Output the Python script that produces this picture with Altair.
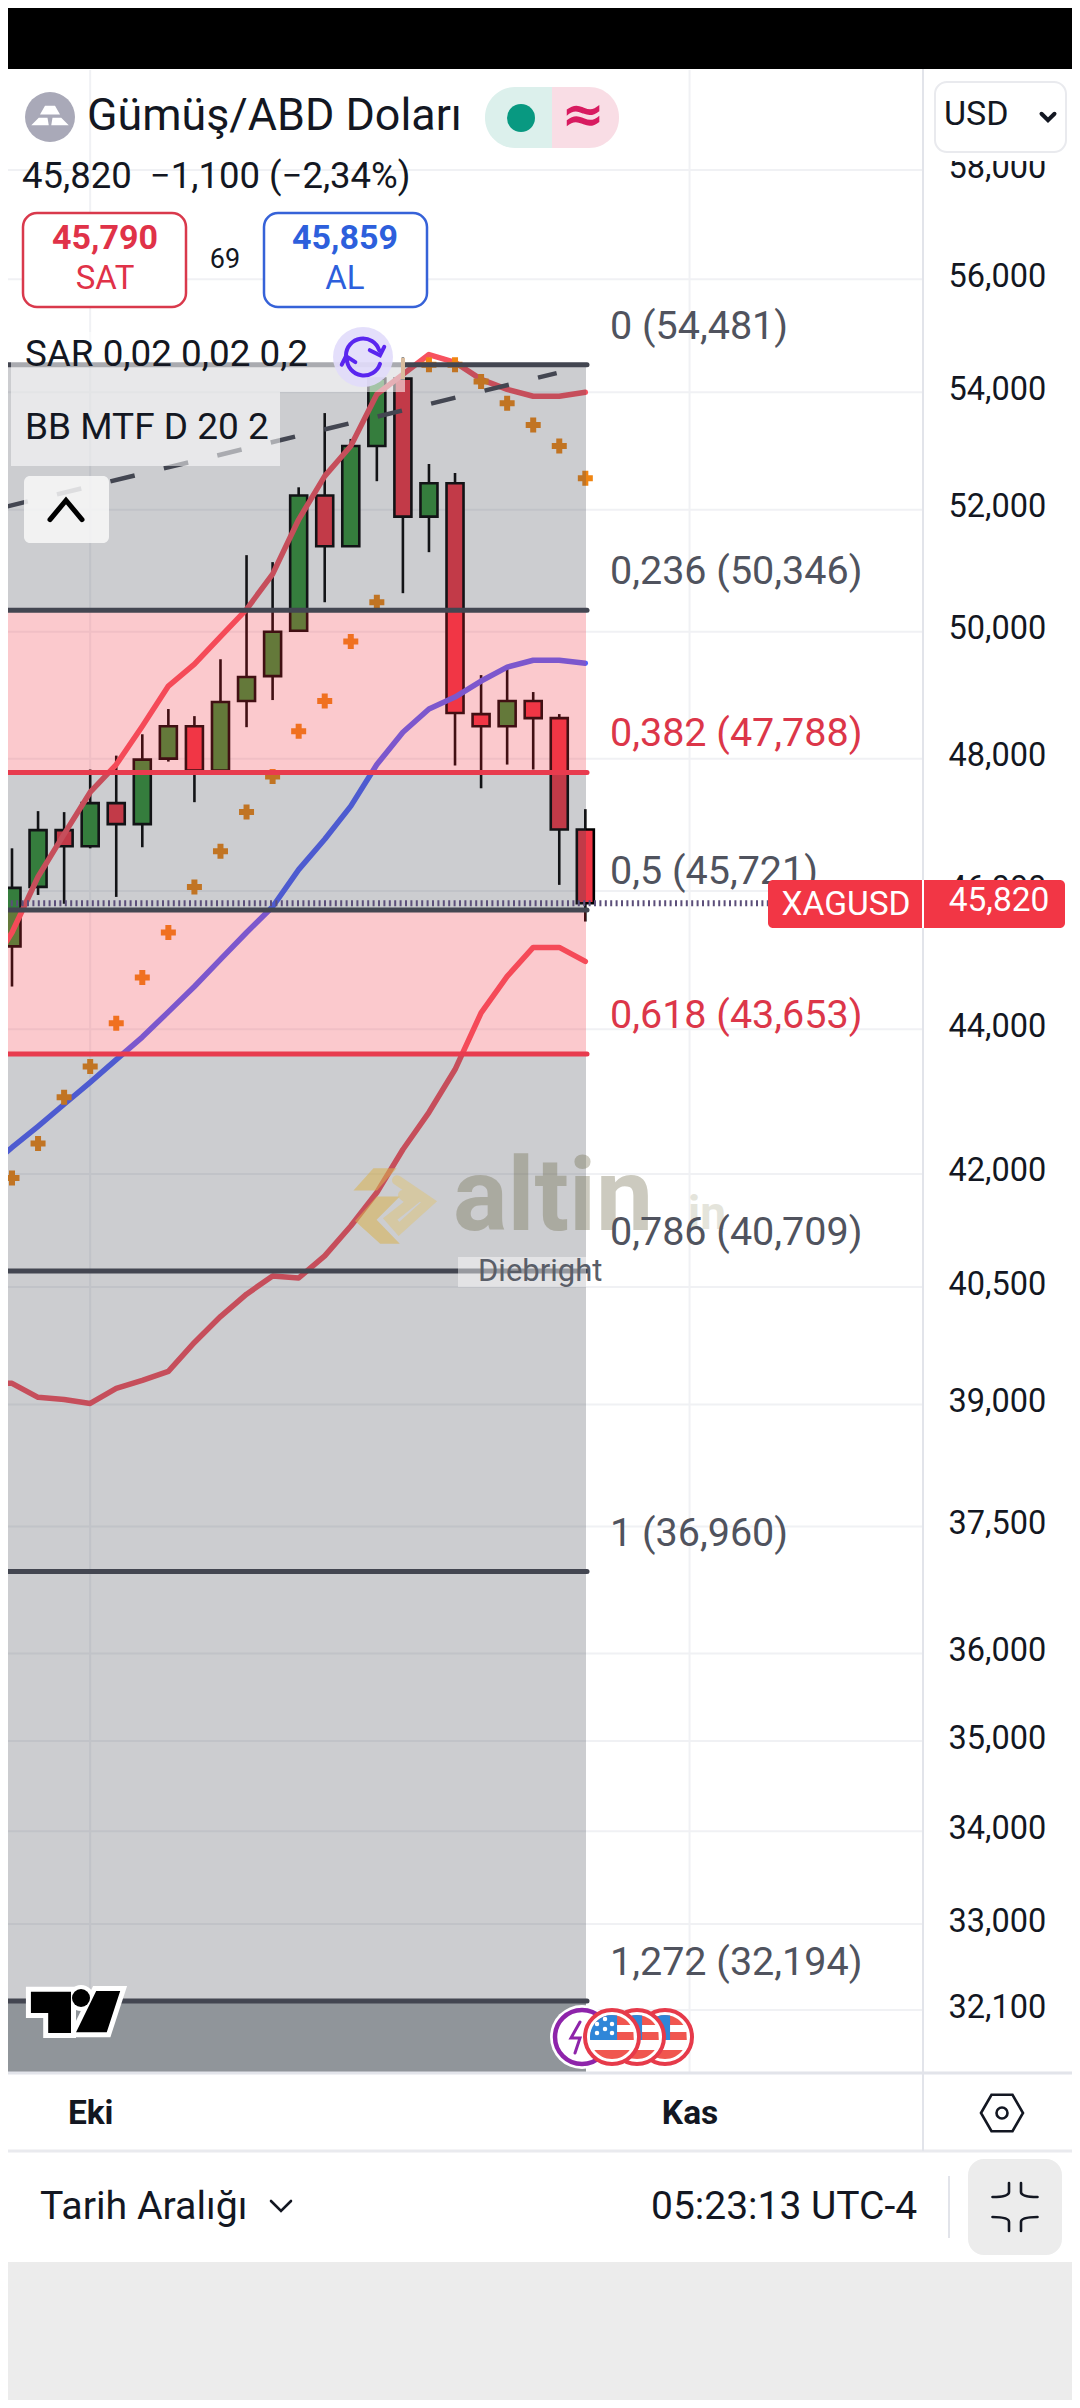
import altair as alt
import pandas as pd

# ---- data ----
idx = list(range(23))
opens = [45189, 46061, 46909, 46667, 47318, 47000, 48000, 48504, 47818, 48898, 49291, 50016,
         52239, 51394, 53077, 54239, 51885, 52445, 48693, 48504, 48898, 48630, 46920]
highs = [46636, 47197, 47182, 47833, 48047, 48378, 48772, 48661, 49559, 51246, 51131, 52376,
         53641, 53197, 54257, 54616, 52770, 52616, 49307, 49449, 49039, 48693, 47227]
lows = [44609, 45942, 45812, 46636, 45913, 46652, 47955, 47333, 47818, 48488, 48913, 50016,
        50476, 51394, 52479, 50623, 51295, 47894, 47545, 47909, 47833, 46091, 45551]
closes = [46046, 46909, 46667, 47318, 47000, 47985, 48504, 47818, 48882, 49276, 50000, 52239,
          51394, 53077, 54239, 51885, 52445, 48709, 48504, 48898, 48630, 46920, 45820]

line_idx = list(range(-1, 23))
bb_upper = [44783, 45391, 46212, 46849, 47485, 47909, 48504, 49134, 49480, 49921, 50361, 50935,
            51836, 52564, 53077, 53966, 54313, 54660, 54522, 54226, 54051, 53932, 53932, 54000]
bb_basis = [42056, 42359, 42649, 42952, 43255, 43572, 43890, 44247, 44609, 45000, 45391, 45768,
            46318, 46773, 47273, 47909, 48409, 48772, 48960, 49213, 49433, 49543, 49543, 49496]
bb_lower = [39266, 39266, 39089, 39063, 39013, 39202, 39304, 39418, 39785, 40118, 40408, 40645,
            40618, 40908, 41303, 41750, 42331, 42841, 43434, 44232, 44754, 45174, 45174, 44971]

sar_idx = [0, 1, 2, 3, 4, 5, 6, 7, 8, 9, 10, 11, 12, 13, 14, 16, 17, 18, 19, 20, 21, 22]
sar_val = [41947, 42414, 43048, 43476, 44087, 44739, 45391, 46061, 46591, 47182, 47727, 48425,
           48898, 49843, 50475, 54481, 54481, 54190, 53812, 53436, 53077, 52530]

fib_ratio = ["0", "0,236", "0,382", "0,5", "0,618", "0,786", "1", "1,272"]
fib_price = [54481, 50346, 47788, 45721, 43653, 40709, 36960, 32194]
red_ratio = ["0,382", "0,618"]
pink_from = ["0,236", "0,5"]

trend_idx = [-0.326, 20.9]
trend_val = [52040, 54335]
last_price = 45820

y_ticks = [58000, 56000, 54000, 52000, 50000, 48000, 46000, 44000, 42000, 40500, 39000, 37500,
           36000, 35000, 34000, 33000, 32100]
x_ticks = [3, 26]
x_names = ["Eki", "Kas"]

# ---- styles ----
FONT = "Roboto"
GREEN, RED, BLUE, ORANGE, LINE_RED = "#309236", "#f23645", "#5263ff", "#f08512", "#f7525f"
DARK, INK, GRID = "#434651", "#131722", "#f0f1f4"
XS = alt.Scale(domain=[-0.1535, 40.675], nice=False, zero=False, padding=0)
YS = alt.Scale(type="log", domain=[28317, 61103], nice=False, zero=False, padding=0)
one = alt.Data(values=[{"a": 1}])

label_expr = " : ".join(f"datum.value == {v} ? '{n}'" for v, n in zip(x_ticks, x_names)) + " : ''"
YAX = alt.Axis(orient="right", offset=-124, values=y_ticks, format=",d", grid=False, domain=False, ticks=False,
               labelFont=FONT, labelFontSize=32.5, labelColor=INK, labelPadding=0, labelAlign="left",
               labelBaseline="middle", labelOverlap=False, labelFlush=False, labelBound=False, labelOffset=-3,
               title=None)
XAX = alt.Axis(orient="bottom", offset=-287, values=x_ticks, labelExpr=label_expr, grid=False, domain=False,
               ticks=False, labelFont=FONT, labelFontSize=33.5, labelFontWeight="bold", labelColor=INK,
               labelPadding=0, labelBaseline="middle", labelOverlap=False, labelFlush=False, labelBound=False,
               title=None)


def X(px):
    return alt.value(px - 8)


def Y(px):
    return alt.value(px - 8)


def xq(f="i"):
    return alt.X(f"{f}:Q", scale=XS, axis=XAX, title=None)


def yq(f="p"):
    return alt.Y(f"{f}:Q", scale=YS, axis=YAX, title=None)


def box(x0, x1, y0, y1, fill="white", **kw):
    return alt.Chart(one).mark_rect(fill=fill, **kw).encode(x=X(x0), x2=X(x1), y=Y(y0), y2=Y(y1))


def label(txt, x, y, size, color=INK, align="left", weight="normal", font=FONT, **kw):
    return alt.Chart(one).mark_text(text=txt, font=font, fontSize=size, color=color, align=align,
                                    baseline="middle", fontWeight=weight, **kw).encode(x=X(x), y=Y(y))


def icon(path, x, y, d, color, sw=None, fill=False, op=1):
    if fill:
        m = alt.Chart(one).mark_point(shape=path, size=d * d, filled=True, fill=color, opacity=op, strokeWidth=0)
    else:
        m = alt.Chart(one).mark_point(shape=path, size=d * d, filled=False, stroke=color, strokeWidth=sw,
                                      opacity=op, strokeCap="round")
    return m.encode(x=X(x), y=Y(y))


candles = pd.DataFrame({"i": idx, "o": opens, "h": highs, "l": lows, "c": closes})
fib = pd.DataFrame({"r": fib_ratio, "p": fib_price})
fib["t"] = [f"{r} ({p:,})" for r, p in zip(fib_ratio, fib_price)]
fib["red"] = [r in red_ratio for r in fib_ratio]
bands = pd.DataFrame({"r": fib_ratio[:-1], "p": fib_price[:-1], "q": fib_price[1:]})
bands["pink"] = [r in pink_from for r in bands["r"]]

# ---- grid + axes ----
grid_h = alt.Chart(pd.DataFrame({"p": y_ticks})).mark_rule(color=GRID, strokeWidth=2).encode(
    y=yq(), x=X(0), x2=X(923))
grid_v = alt.Chart(pd.DataFrame({"i": x_ticks})).mark_rule(color=GRID, strokeWidth=2).encode(
    x=xq(), y=Y(70), y2=Y(2073))

# ---- candles ----
wicks = alt.Chart(candles).mark_rule(color="black", strokeWidth=2.6).encode(x=xq(), y=yq("l"), y2="h:Q")
bodies = alt.Chart(candles).mark_bar(size=17, stroke="black", strokeWidth=2.6, orient="vertical").encode(
    x=xq(), y=yq("o"), y2="c:Q",
    fill=alt.condition("datum.c >= datum.o", alt.value(GREEN), alt.value(RED)))


def series(vals, color):
    d = pd.DataFrame({"i": line_idx, "p": vals})
    return alt.Chart(d).mark_line(color=color, strokeWidth=5.5, strokeCap="round", strokeJoin="round").encode(x=xq(), y=yq())


sar = alt.Chart(pd.DataFrame({"i": sar_idx, "p": sar_val})).mark_point(
    shape="cross", size=225, filled=True, color=ORANGE, opacity=1).encode(x=xq(), y=yq())

# ---- fibonacci ----
band_rects = alt.Chart(bands).mark_rect(opacity=0.27).encode(
    y=yq(), y2="q:Q", x=X(0), x2=X(586),
    fill=alt.condition("datum.pink", alt.value(RED), alt.value(DARK)))
band_end = alt.Chart(pd.DataFrame({"p": fib_price[-1:]})).mark_rect(fill="#90959a").encode(
    y=yq(), y2=Y(2073), x=X(0), x2=X(586))
fib_lines = alt.Chart(fib).mark_rule(strokeWidth=5, strokeCap="round").encode(
    y=yq(), x=X(0), x2=X(587),
    stroke=alt.condition("datum.red", alt.value("#e83b4e"), alt.value(DARK)))
fib_text = alt.Chart(fib).mark_text(font=FONT, fontSize=39.5, align="left", baseline="middle", dy=-38).encode(
    y=yq(), x=X(610), text="t:N",
    color=alt.condition("datum.red", alt.value("#dc3649"), alt.value("#50535e")))

trend = alt.Chart(pd.DataFrame({"i": trend_idx, "p": trend_val})).mark_line(
    color=DARK, strokeWidth=4.5, strokeDash=[25, 30]).encode(x=xq(), y=yq())
price_line = alt.Chart(pd.DataFrame({"p": [last_price]})).mark_rule(
    color="#5c4f7a", strokeWidth=6, strokeDash=[2, 3.4]).encode(y=yq(), x=X(0), x2=X(768))

# ---- watermark ----
wm = [
    icon("M-1.04,-0.36 L-0.54,-0.92 L0.04,-0.92 L-0.45,-0.36 Z", 395, 1205, 80, "#d8b24e", fill=True, op=0.55),
    icon("M0.12,-0.21 L-0.46,-0.21 L-1,0.4 L-0.37,0.97 L0.12,0.97 L-0.46,0.37 Z", 395, 1205, 80, "#d8b24e", fill=True, op=0.55),
    icon("M0.05,-0.62 L0.85,-0.08 L0.1,0.6 L-0.12,0.35 L0.42,-0.08 L0.2,-0.25", 395, 1205, 80, "#e0c26e", sw=10, op=0.45),
    label("altin", 453, 1199, 102, "#6e6a4a", weight="bold", opacity=0.35),
    label("in", 688, 1215, 46, "#8a8660", weight="bold", opacity=0.22),
]

# ---- chrome ----
TOP_STRIPE = "M-0.835,-0.55 A1,1 0 0 1 0.835,-0.55 Z"
MID_STRIPE = "M-0.973,-0.23 L0.973,-0.23 L0.99,0.14 L-0.99,0.14 Z"
LOW_STRIPE = "M-0.807,0.59 L0.807,0.59 A1,1 0 0 1 -0.807,0.59 Z"
CANTON = "M-0.99,0.14 L0.23,0.14 L0.23,-0.973 A1,1 0 0 0 -0.99,0.14 Z"


def flag(x):
    return [
        icon("circle", x, 2037, 54, "white", fill=True),
        icon("circle", x, 2037, 54, "#e63a4a", sw=4),
        icon(TOP_STRIPE, x, 2037, 44, "#f0564f", fill=True),
        icon(MID_STRIPE, x, 2037, 44, "#f0564f", fill=True),
        icon(LOW_STRIPE, x, 2037, 44, "#f0564f", fill=True),
        icon(CANTON, x, 2037, 44, "#2f86d8", fill=True),
    ]


stars = [icon("circle", x, y, 4.5, "white", fill=True) for x, y in
         [(597, 2024), (605, 2019), (612, 2024), (597, 2033), (605, 2029), (612, 2033)]]

TV_SHAPE = ("M-0.96,-0.42 L-0.125,-0.42 L-0.125,0.44 L-0.6,0.44 L-0.6,0.02 L-0.96,0.02 Z "
            "M0.4,-0.44 L0.9,-0.44 L0.62,0.42 L-0.02,0.42 Z")

chrome = [
    box(0, 1080, 8, 69, fill="black"),
    box(925, 1080, 69, 161),
    box(0, 1080, 2262, 2408, fill="#ececec"),
    alt.Chart(one).mark_rule(color="#e2e4ea", strokeWidth=3).encode(x=X(0), x2=X(1080), y=Y(2073)),
    alt.Chart(one).mark_rule(color="#e9eaee", strokeWidth=3).encode(x=X(0), x2=X(1080), y=Y(2151)),
    alt.Chart(one).mark_rule(color="#e2e4ea", strokeWidth=2).encode(x=X(923), y=Y(69), y2=Y(2151)),
    alt.Chart(one).mark_rule(color="#e2e4ea", strokeWidth=2).encode(x=X(949), y=Y(2176), y2=Y(2238)),
    # header
    icon("circle", 50, 117, 50, "#a9a9b8", fill=True),
    icon("M-0.2,-0.45 L0.2,-0.45 L0.4,-0.1 L-0.4,-0.1 Z M-0.45,0.03 L-0.1,0.03 L-0.05,0.33 L-0.75,0.33 Z M0.1,0.03 L0.45,0.03 L0.75,0.33 L0.05,0.33 Z",
         50, 117, 50, "white", fill=True),
    label("Gümüş/ABD Doları", 87, 117, 44.8),
    box(485, 552, 87, 148, fill="#dcf0ec", cornerRadiusTopLeft=30, cornerRadiusBottomLeft=30),
    box(552, 619, 87, 148, fill="#f9dde5", cornerRadiusTopRight=30, cornerRadiusBottomRight=30),
    icon("circle", 521, 118, 28, "#089981", fill=True),
    label("≈", 583, 116, 52, "#d81b60", align="center", weight="bold", font="DejaVu Sans"),
    box(935, 1066, 82, 152, stroke="#e9eaee", strokeWidth=2, cornerRadius=12),
    label("USD", 944, 115, 34),
    icon("M-1,-0.5 L0,0.5 L1,-0.5", 1048, 117, 13, INK, sw=4),
    label("45,820\u00a0\u00a0−1,100 (−2,34%)", 22, 177, 36.5),
    box(23, 186, 213, 307, stroke="#d9394c", strokeWidth=2.5, cornerRadius=14),
    label("45,790", 105, 239, 34, "#e03248", align="center", weight="bold"),
    label("SAT", 105, 279, 33, "#e03248", align="center"),
    label("69", 225, 260, 27, align="center"),
    box(264, 427, 213, 307, stroke="#3662d8", strokeWidth=2.5, cornerRadius=14),
    label("45,859", 345, 239, 34, "#2d5fdc", align="center", weight="bold"),
    label("AL", 345, 279, 33, "#2d5fdc", align="center"),
    # legend panels
    box(11, 405, 332, 392, opacity=0.55),
    box(11, 280, 392, 466, opacity=0.55),
    alt.Chart(one).mark_rule(color="#d9bc9e", strokeWidth=4).encode(x=X(403), y=Y(358), y2=Y(379)),
    label("SAR 0,02 0,02 0,2", 25, 355, 36.8),
    label("BB MTF D 20 2", 25, 428, 37),
    icon("circle", 363, 357, 60, "#e1dbfb", fill=True, op=0.9),
    icon("M-1,-0.1 A1,1 0 0 1 0.95,-0.4 M0.4,-0.4 L1,-0.1 L1.25,-0.6", 363, 357, 34, "#5a26ef", sw=4),
    icon("M1,0.4 A1,1 0 0 1 -0.95,0.1 M-1.25,0.45 L-1,-0.05 L-0.45,0.3", 363, 357, 34, "#5a26ef", sw=4),
    box(24, 109, 476, 543, fill="#f8f8f8", opacity=0.85, cornerRadius=6),
    icon("M-1,0.6 L0,-0.6 L1,0.6", 66, 510, 32, "black", sw=5),
    # author tag
    box(458, 586, 1257, 1287, opacity=0.45),
    label("Diebright", 478, 1272, 31, "#5a5e68"),
    # last price tag
    box(768, 1065, 880, 928, fill=RED, cornerRadius=5),
    alt.Chart(one).mark_rule(color="white", strokeWidth=2).encode(x=X(923), y=Y(880), y2=Y(928)),
    label("XAGUSD", 846, 905, 33.5, "white", align="center"),
    label("45,820", 999, 901, 33.5, "white", align="center"),
    # event icons
    icon("circle", 582, 2037, 64, "white", fill=True),
    icon("circle", 582, 2037, 54, "#8e24aa", sw=4.5),
    icon("M-0.1,-0.75 L-0.55,0.05 L-0.1,0.05 L-0.35,0.8", 582, 2037, 40, "#8e24aa", sw=3),
    *flag(665), *flag(637), *flag(612), *stars,
    # TradingView mark
    icon(TV_SHAPE, 77, 2012, 96, "white", sw=10),
    icon("circle", 81, 1998, 26, "white", fill=True),
    icon(TV_SHAPE, 77, 2012, 96, "black", fill=True),
    icon("circle", 81, 1998, 18, "black", fill=True),
    # bottom bar
    icon("M-1,0 L-0.5,-0.87 L0.5,-0.87 L1,0 L0.5,0.87 L-0.5,0.87 Z", 1002, 2113, 42, INK, sw=2.6),
    icon("circle", 1002, 2113, 11, INK, sw=2.6),
    label("Tarih Aralığı", 40, 2207, 39.3),
    icon("M-1,-0.5 L0,0.5 L1,-0.5", 281, 2206, 20, INK, sw=2.6),
    label("05:23:13 UTC-4", 651, 2207, 39),
    box(968, 1062, 2159, 2255, fill="#ececec", cornerRadius=16),
    icon("M-0.24,-0.96 L-0.24,-0.6 Q-0.24,-0.4 -0.9,-0.4 M0.24,-0.96 L0.24,-0.6 Q0.24,-0.4 0.9,-0.4 "
         "M-0.24,0.96 L-0.24,0.6 Q-0.24,0.4 -0.9,0.4 M0.24,0.96 L0.24,0.6 Q0.24,0.4 0.9,0.4",
         1015, 2207, 50, INK, sw=2.6),
]

layers = [grid_h, grid_v, wicks, bodies, series(bb_upper, LINE_RED), series(bb_lower, LINE_RED),
          series(bb_basis, BLUE), sar, band_rects, band_end, fib_lines, trend, price_line,
          *wm, fib_text, *chrome]

chart = alt.layer(*layers).properties(
    width=1064, height=2392, padding=0, background="white",
    autosize=alt.AutoSizeParams(type="none"),
).configure_view(stroke=None)

chart.save("out.html", embed_options={"renderer": "svg", "actions": False})
